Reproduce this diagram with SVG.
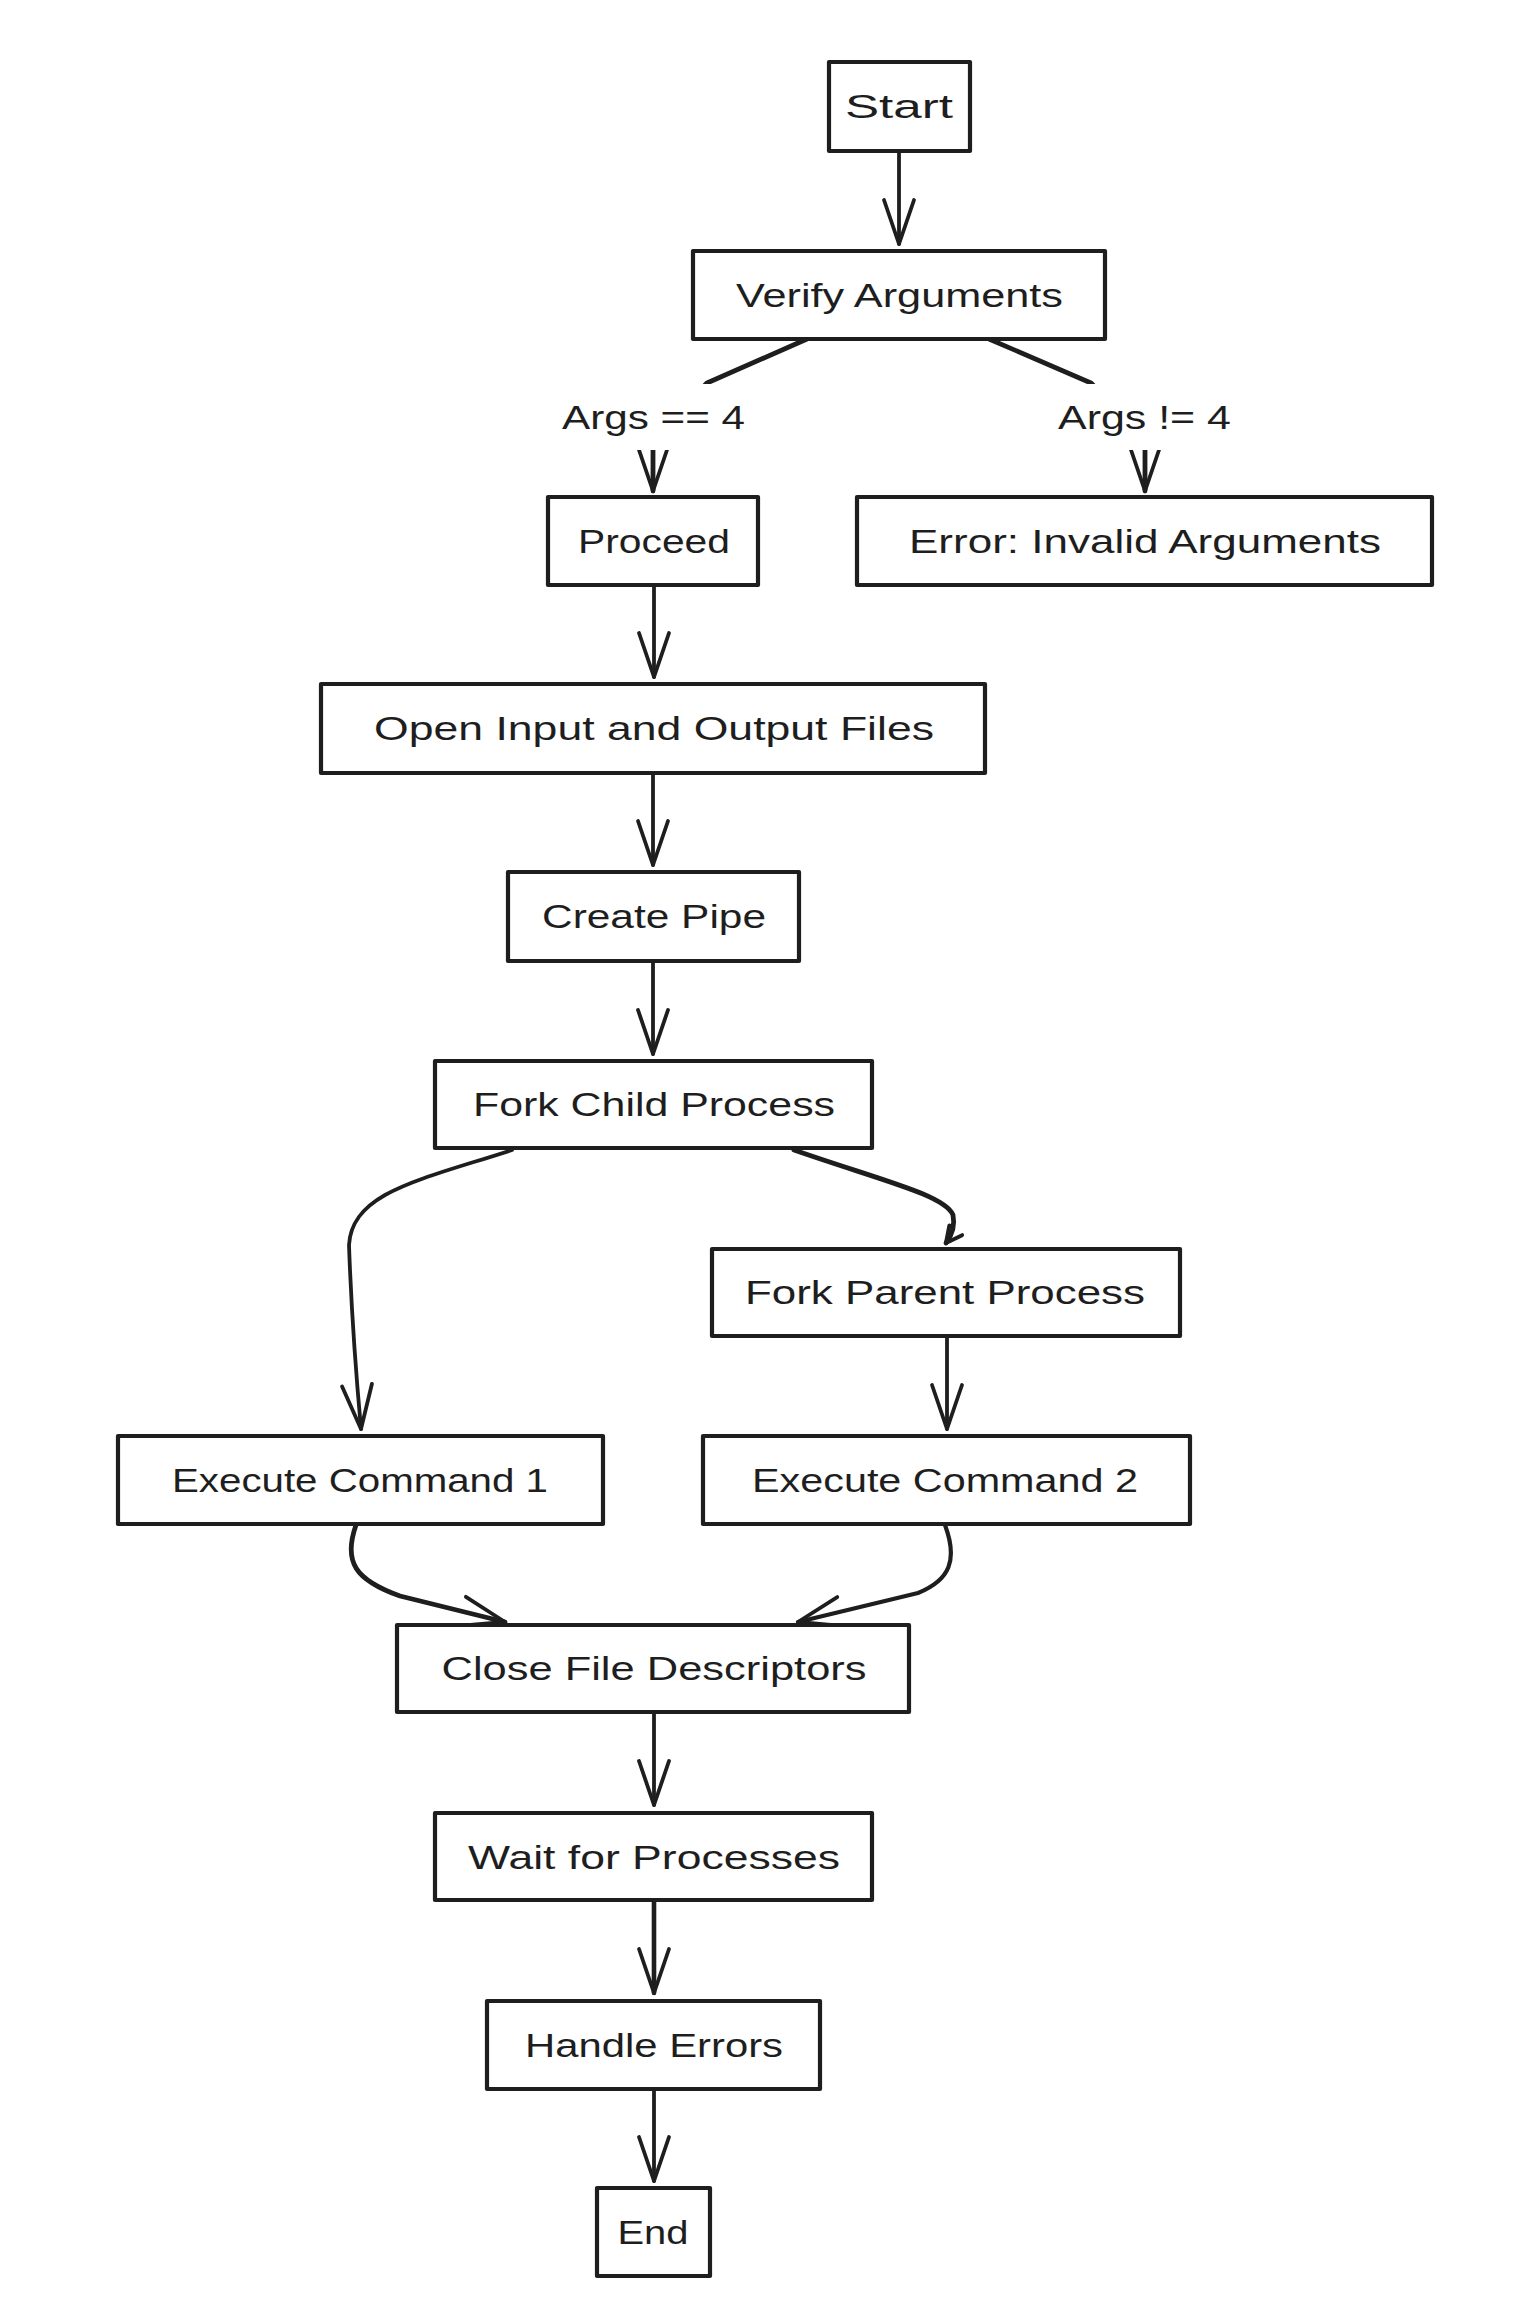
<svg xmlns="http://www.w3.org/2000/svg" width="1516" height="2298" viewBox="0 0 1516 2298">
<style>
.box{fill:#ffffff;stroke:#1e1e1e;stroke-width:4.2;stroke-linejoin:round}
.t{font-family:"Liberation Sans","DejaVu Sans",sans-serif;font-size:34px;fill:#1e1e1e;text-anchor:middle}
.c{fill:none;stroke:#1e1e1e;stroke-width:3.8;stroke-linecap:round;stroke-linejoin:round}
.lblbg{fill:#ffffff;stroke:none}
</style>
<defs>
<marker id="ah" markerUnits="userSpaceOnUse" markerWidth="60" markerHeight="60" refX="0" refY="0" orient="auto" overflow="visible">
<path d="M-44,-15 L0,0 L-44,15" fill="none" stroke="#1e1e1e" stroke-width="3.8" stroke-linecap="round" stroke-linejoin="round"/>
</marker>
<marker id="ahs" markerUnits="userSpaceOnUse" markerWidth="40" markerHeight="40" refX="0" refY="0" orient="auto" overflow="visible">
<path d="M-16,-8 L0,0 L-16,8" fill="none" stroke="#1e1e1e" stroke-width="4" stroke-linecap="round" stroke-linejoin="round"/>
</marker>
</defs>
<rect width="1516" height="2298" fill="#ffffff"/>
<g id="connectors">
<path class="c" d="M899,151 L899,244" marker-end="url(#ah)"/>
<path class="c" d="M807,339 L707,383 L653,440 L653,491" marker-end="url(#ah)" style="stroke-width:4.8"/>
<path class="c" d="M989,339 L1091,383 L1145,440 L1145,491" marker-end="url(#ah)" style="stroke-width:4.8"/>
<path class="c" d="M654,585 L654,677" marker-end="url(#ah)"/>
<path class="c" d="M653,773 L653,865" marker-end="url(#ah)"/>
<path class="c" d="M653,961 L653,1054" marker-end="url(#ah)"/>
<path class="c" d="M512,1150 C420,1180 352,1192 349,1245 Q352,1330 361,1429" marker-end="url(#ah)"/>
<path class="c" d="M794,1150 C880,1180 945,1195 953,1215 Q956,1230 946,1243" marker-end="url(#ahs)" style="stroke-width:4.8"/>
<path class="c" d="M947,1336 L947,1429" marker-end="url(#ah)"/>
<path class="c" d="M356,1525 C343,1562 355,1580 400,1596 L505,1622" marker-end="url(#ah)" style="stroke-width:4.8"/>
<path class="c" d="M945,1525 C958,1560 950,1580 918,1593 L798,1622" marker-end="url(#ah)" style="stroke-width:4.2"/>
<path class="c" d="M654,1712 L654,1805" marker-end="url(#ah)"/>
<path class="c" d="M654,1900 L654,1993" marker-end="url(#ah)" style="stroke-width:4.6"/>
<path class="c" d="M654,2089 L654,2181" marker-end="url(#ah)"/>
</g>
<g id="label-args-eq">
<rect class="lblbg" x="555" y="384" width="197" height="66"/>
<text class="t" x="653.5" y="429" textLength="183" lengthAdjust="spacingAndGlyphs">Args == 4</text>
</g>
<g id="label-args-ne">
<rect class="lblbg" x="1050" y="384" width="190" height="66"/>
<text class="t" x="1144.5" y="429" textLength="173" lengthAdjust="spacingAndGlyphs">Args != 4</text>
</g>
<g id="start"><rect class="box" x="829" y="62" width="141" height="89"/><text class="t" x="899" y="118" textLength="108" lengthAdjust="spacingAndGlyphs">Start</text></g>
<g id="verify"><rect class="box" x="693" y="251" width="412" height="88"/><text class="t" x="899.5" y="307" textLength="327" lengthAdjust="spacingAndGlyphs">Verify Arguments</text></g>
<g id="proceed"><rect class="box" x="548" y="497" width="210" height="88"/><text class="t" x="654" y="553" textLength="152" lengthAdjust="spacingAndGlyphs">Proceed</text></g>
<g id="error"><rect class="box" x="857" y="497" width="575" height="88"/><text class="t" x="1145" y="553" textLength="472" lengthAdjust="spacingAndGlyphs">Error: Invalid Arguments</text></g>
<g id="open"><rect class="box" x="321" y="684" width="664" height="89"/><text class="t" x="654" y="740" textLength="560" lengthAdjust="spacingAndGlyphs">Open Input and Output Files</text></g>
<g id="pipe"><rect class="box" x="508" y="872" width="291" height="89"/><text class="t" x="654" y="928" textLength="224" lengthAdjust="spacingAndGlyphs">Create Pipe</text></g>
<g id="forkchild"><rect class="box" x="435" y="1061" width="437" height="87"/><text class="t" x="654" y="1116" textLength="362" lengthAdjust="spacingAndGlyphs">Fork Child Process</text></g>
<g id="forkparent"><rect class="box" x="712" y="1249" width="468" height="87"/><text class="t" x="945" y="1304" textLength="400" lengthAdjust="spacingAndGlyphs">Fork Parent Process</text></g>
<g id="exec1"><rect class="box" x="118" y="1436" width="485" height="88"/><text class="t" x="360" y="1492" textLength="376" lengthAdjust="spacingAndGlyphs">Execute Command 1</text></g>
<g id="exec2"><rect class="box" x="703" y="1436" width="487" height="88"/><text class="t" x="945" y="1492" textLength="386" lengthAdjust="spacingAndGlyphs">Execute Command 2</text></g>
<g id="close"><rect class="box" x="397" y="1625" width="512" height="87"/><text class="t" x="654" y="1680" textLength="425" lengthAdjust="spacingAndGlyphs">Close File Descriptors</text></g>
<g id="wait"><rect class="box" x="435" y="1813" width="437" height="87"/><text class="t" x="654" y="1869" textLength="372" lengthAdjust="spacingAndGlyphs">Wait for Processes</text></g>
<g id="handle"><rect class="box" x="487" y="2001" width="333" height="88"/><text class="t" x="654" y="2057" textLength="258" lengthAdjust="spacingAndGlyphs">Handle Errors</text></g>
<g id="end"><rect class="box" x="597" y="2188" width="113" height="88"/><text class="t" x="653" y="2244" textLength="71" lengthAdjust="spacingAndGlyphs">End</text></g>
</svg>
